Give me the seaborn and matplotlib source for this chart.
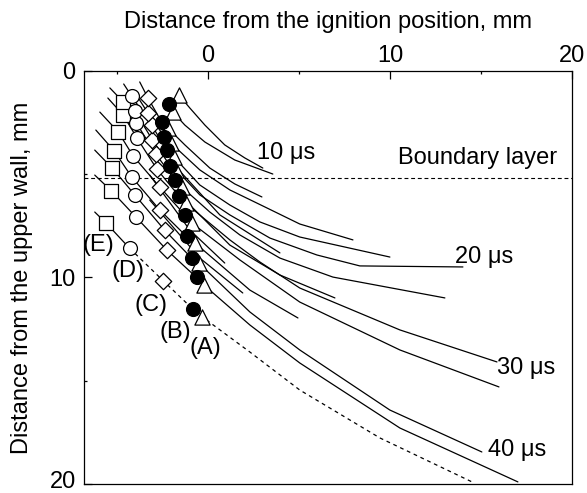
import numpy as np
import pandas as pd
import seaborn as sns
import matplotlib.pyplot as plt
import matplotlib.transforms as mtransforms
from matplotlib.ticker import MultipleLocator

sns.set_theme(style="ticks")
plt.rcParams['font.family'] = ['Liberation Sans', 'DejaVu Sans']
plt.rcParams.update({"text.color": "black", "axes.labelcolor": "black",
                     "xtick.color": "black", "ytick.color": "black",
                     "axes.edgecolor": "black"})

# ---- marker series (x: distance from ignition, mm ; y: distance from upper wall, mm)
A_x = [-0.30, -0.22, -0.49, -0.69, -0.85, -1.21, -1.43, -1.72, -1.87, -2.03, -2.20, -1.92, -1.59]
A_y = [11.91, 10.36, 9.31, 8.34, 7.38, 6.41, 5.62, 4.79, 4.16, 3.49, 2.76, 1.99, 1.16]
B_x = [-0.81, -0.62, -0.88, -1.17, -1.26, -1.59, -1.80, -2.06, -2.25, -2.39, -2.54, -2.14]
B_y = [11.54, 10.00, 9.07, 8.01, 6.97, 6.05, 5.28, 4.60, 3.83, 3.18, 2.46, 1.60]
C_x = [-2.46, -2.24, -2.36, -2.64, -2.64, -2.79, -2.86, -3.04, -3.09, -3.28, -3.28]
C_y = [10.15, 8.68, 7.72, 6.73, 5.62, 4.76, 4.02, 3.34, 2.62, 2.05, 1.32]
D_x = [-4.29, -3.96, -4.01, -4.19, -4.10, -3.88, -3.92, -4.01, -4.19]
D_y = [8.59, 7.06, 6.00, 5.12, 4.12, 3.26, 2.53, 1.94, 1.21]
E_x = [-5.57, -5.29, -5.24, -5.15, -4.93, -4.65, -4.65]
E_y = [7.38, 5.81, 4.71, 3.86, 2.94, 2.13, 1.49]

# ---- trajectories (solid)
lines = {
    "k2": ([-6.21, -5.29, -3.96, -2.24, -0.62, -0.22, 2.31, 5.05, 10.55, 17.03],
           [5.04, 5.81, 7.06, 8.68, 10.00, 10.36, 12.30, 14.14, 17.29, 19.90]),
    "k3": ([-6.21, -5.24, -4.01, -2.36, -0.88, -0.49, 2.31, 5.05, 10.00, 15.05],
           [3.83, 4.71, 6.00, 7.72, 9.07, 9.31, 11.67, 13.51, 16.42, 18.45]),
    "k4": ([-6.15, -5.15, -4.19, -2.64, -1.17, -0.69, 2.31, 4.95],
           [2.86, 3.86, 5.12, 6.73, 8.01, 8.34, 10.61, 11.96]),
    "k5": ([-5.93, -4.93, -4.10, -2.64, -1.26, -0.85, 1.76, 5.05, 10.55, 15.99],
           [1.99, 2.94, 4.12, 5.62, 6.97, 7.38, 9.15, 11.19, 13.51, 15.30]),
    "k6": ([-5.49, -4.65, -3.88, -2.79, -1.59, -1.21, 1.21, 2.86, 5.05, 10.55, 15.88],
           [1.31, 2.13, 3.26, 4.76, 6.05, 6.41, 8.18, 9.25, 10.51, 12.54, 14.09]),
    "k7": ([-5.38, -4.65, -3.92, -2.86, -1.80, -1.43, 0.11, 1.76, 3.96, 6.87, 13.02],
           [0.82, 1.49, 2.53, 4.02, 5.28, 5.62, 6.83, 7.94, 9.06, 9.98, 10.99]),
    "k8": ([-4.56, -4.01, -3.04, -2.06, -1.72, -0.44, 1.21, 3.41, 5.99, 8.35, 14.01],
           [1.26, 1.94, 3.34, 4.60, 4.79, 6.00, 6.97, 8.09, 8.91, 9.44, 9.49]),
    "k9": ([-4.62, -4.19, -3.09, -2.25, -1.87, -0.44, 1.21, 2.86, 5.05, 10.00],
           [0.63, 1.21, 2.62, 3.83, 4.16, 5.52, 6.49, 7.31, 8.04, 9.01]),
    "k10": ([-3.85, -3.28, -2.39, -2.03, -0.44, 1.21, 3.24, 5.05, 7.97],
            [1.26, 2.05, 3.18, 3.49, 4.79, 5.76, 6.63, 7.41, 8.18]),
    "k11": ([-3.74, -3.28, -2.54, -2.20, -1.26, 0.11, 1.48, 2.97],
            [0.53, 1.32, 2.46, 2.76, 3.58, 4.70, 5.47, 6.10]),
    "k12": ([-2.14, -1.92, -1.26, -0.16, 1.48, 3.57],
            [1.60, 1.99, 2.62, 3.44, 4.31, 4.99]),
    "k13": ([-1.59, -0.99, -0.16, 0.93, 2.03, 3.02],
            [1.16, 1.79, 2.62, 3.58, 4.21, 4.70]),
    "s1": ([-3.19, -0.99, 0.93], [5.04, 7.70, 9.30]),
    "s2": ([-3.19, -0.44, 1.92], [6.25, 9.06, 10.75]),
    "s3": ([-2.09, 0.66, 3.96], [4.31, 6.97, 8.81]),
    "s4": ([-1.81, 1.21, 3.96, 6.98], [5.76, 8.43, 9.88, 10.99]),
}
# bottom trajectory: solid part then dashed part
k1_solid_x = [-6.21, -5.57, -4.29]
k1_solid_y = [6.83, 7.38, 8.59]
k1_dash_x = [-4.29, -2.46, -0.81, -0.30, 2.31, 5.05, 9.45, 14.51]
k1_dash_y = [8.59, 10.15, 11.54, 11.91, 13.61, 15.45, 17.77, 19.90]

boundary_layer_y = 5.2

fig = plt.figure(figsize=(5.87, 4.93), dpi=100)
ax = fig.add_axes([0.1431, 0.0183, 0.8313, 0.8377])

lw = 0.9
for name, (xs, ys) in lines.items():
    sns.lineplot(x=xs, y=ys, ax=ax, color="black", lw=lw, sort=False, estimator=None)
sns.lineplot(x=k1_solid_x, y=k1_solid_y, ax=ax, color="black", lw=lw, sort=False, estimator=None)
sns.lineplot(x=k1_dash_x, y=k1_dash_y, ax=ax, color="black", lw=lw, sort=False,
             estimator=None, linestyle=(0, (3, 3)))

ax.axhline(boundary_layer_y, color="black", lw=0.8, ls=(0, (3.5, 2.5)))

ec = dict(edgecolor="black", linewidth=0.9, zorder=5, ax=ax, legend=False)
sns.scatterplot(x=E_x, y=E_y, marker="s", color="white", s=100, **ec)
sns.scatterplot(x=D_x, y=D_y, marker="o", color="white", s=100, **ec)
sns.scatterplot(x=C_x, y=C_y, marker="D", color="white", s=70, **ec)
sns.scatterplot(x=A_x, y=A_y, marker="^", color="white", s=120, **ec)
sns.scatterplot(x=B_x, y=B_y, marker="o", color="black", s=100, **ec)

fs = 17
for lab, (tx, ty) in {"(E)": (-5.99, 8.43), "(D)": (-4.40, 9.68), "(C)": (-3.13, 11.33),
                      "(B)": (-1.81, 12.64), "(A)": (-0.16, 13.41)}.items():
    ax.text(tx, ty, lab, fontsize=fs, ha="center", va="center", color="black")
ax.text(2.69, 3.97, "10 \u03bcs", fontsize=fs, ha="left", va="center", color="black")
ax.text(10.44, 4.21, "Boundary layer", fontsize=fs, ha="left", va="center", color="black")
ax.text(13.57, 9.01, "20 \u03bcs", fontsize=fs, ha="left", va="center", color="black")
ax.text(15.88, 14.38, "30 \u03bcs", fontsize=fs, ha="left", va="center", color="black")
ax.text(15.38, 18.35, "40 \u03bcs", fontsize=fs, ha="left", va="center", color="black")

ax.set_xlim(-6.8, 20)
ax.set_ylim(20, 0)
ax.xaxis.tick_top()
ax.xaxis.set_label_position("top")
ax.set_xticks([0, 10, 20])
ax.set_yticks([0, 10, 20])
ax.xaxis.set_minor_locator(MultipleLocator(5))
ax.yaxis.set_minor_locator(MultipleLocator(5))
ax.tick_params(which="both", direction="in", top=True, bottom=False, left=True, right=False,
               labelsize=fs, width=0.9, color="black", labelcolor="black")
ax.tick_params(axis="x", which="major", pad=3)
ax.tick_params(axis="y", which="major", pad=6)
ax.tick_params(which="major", length=6)
ax.tick_params(which="minor", length=2.5)
ax.set_xlabel("Distance from the ignition position, mm", fontsize=fs, labelpad=12, color="black")
ax.set_ylabel("Distance from the upper wall, mm", fontsize=fs, labelpad=12, color="black")
for sp in ax.spines.values():
    sp.set_visible(True)
    sp.set_color("black")
    sp.set_linewidth(0.9)

# nudge the bottom y tick label up slightly so it stays inside the figure
last = ax.yaxis.get_majorticklabels()[-1]
last.set_transform(last.get_transform() + mtransforms.ScaledTranslation(0, 3 / 72, fig.dpi_scale_trans))

fig.savefig("out.png", dpi=100)
